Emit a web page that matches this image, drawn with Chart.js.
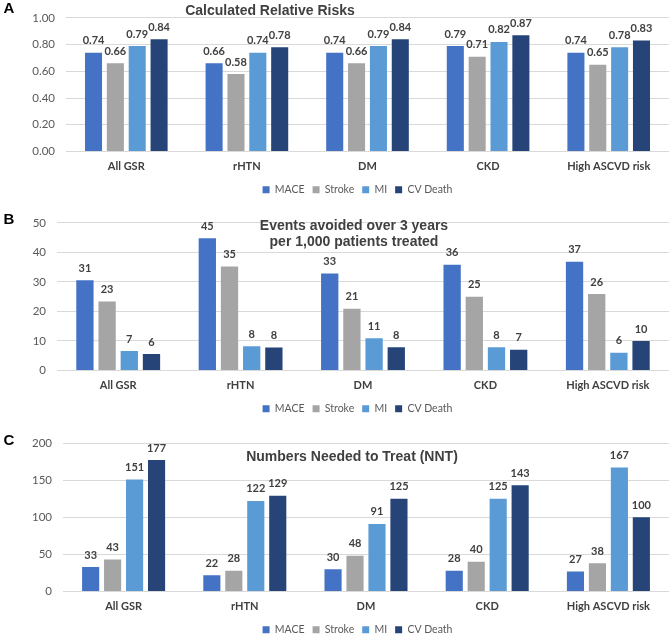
<!DOCTYPE html>
<html>
<head>
<meta charset="utf-8">
<script src="https://cdn.jsdelivr.net/npm/chart.js@4.4.1/dist/chart.umd.min.js"></script>
<style>
  html, body { margin: 0; padding: 0; background: #fff; }
  #wrap { position: relative; width: 669px; height: 636px; overflow: hidden; }
  #wrap canvas { position: absolute; left: 0; }
  .letter, .title { position: absolute; transform: translate(-50%, -50%); white-space: nowrap; }
  .letter { font: bold 15px "Liberation Sans", Arial, sans-serif; color: #000; }
  .title { font: bold 14px "Liberation Sans", Arial, sans-serif; color: #404040; text-align: center; line-height: 16px; }
</style>
</head>
<body>
<div id="wrap">
  <canvas id="chartA" width="669" height="205" style="top:0"></canvas>
  <canvas id="chartB" width="669" height="219" style="top:205px"></canvas>
  <canvas id="chartC" width="669" height="221" style="top:424px"></canvas>

  <div class="letter" style="left:9px;top:7px">A</div>
  <div class="letter" style="left:9px;top:218px">B</div>
  <div class="letter" style="left:9px;top:439px">C</div>

  <div class="title" style="left:270px;top:10px">Calculated Relative Risks</div>
  <div class="title" style="left:354px;top:233px">Events avoided over 3 years<br>per 1,000 patients treated</div>
  <div class="title" style="left:352px;top:456px">Numbers Needed to Treat (NNT)</div>
</div>

<script>
// categories and series
const categories = ["All GSR", "rHTN", "DM", "CKD", "High ASCVD risk"];
const seriesNames = ["MACE", "Stroke", "MI", "CV Death"];
const seriesColors = ["#4472C4", "#A5A5A5", "#5B9BD5", "#264478"];

// A - calculated relative risks
const rrMace    = [0.74, 0.66, 0.74, 0.79, 0.74];
const rrStroke  = [0.66, 0.58, 0.66, 0.71, 0.65];
const rrMi      = [0.79, 0.74, 0.79, 0.82, 0.78];
const rrCvDeath = [0.84, 0.78, 0.84, 0.87, 0.83];
const rrTicks   = [0, 0.2, 0.4, 0.6, 0.8, 1.0];

// B - events avoided over 3 years per 1,000 patients
const evMace    = [30.6, 44.8, 32.9, 35.8, 36.8];
const evStroke  = [23.4, 35.2, 20.9, 25.0, 25.9];
const evMi      = [6.6, 8.2, 10.9, 7.9, 6.0];
const evCvDeath = [5.6, 7.8, 7.9, 7.0, 10.0];
const evTicks   = [0, 10, 20, 30, 40, 50];

// C - numbers needed to treat
const nntMace    = [33, 22, 30, 28, 27];
const nntStroke  = [43, 28, 48, 40, 38];
const nntMi      = [151, 122, 91, 125, 167];
const nntCvDeath = [177, 129, 125, 143, 100];
const nntTicks   = [0, 50, 100, 150, 200];

const FONT = "Lato, 'Noto Sans', sans-serif";

// draws the value above each bar
const barValues = {
    id: "barValues",
    afterDatasetsDraw(chart, args, opts) {
        const ctx = chart.ctx;
        ctx.save();
        ctx.font = "bold 11px " + FONT;
        ctx.fillStyle = "#404040";
        ctx.textAlign = "center";
        ctx.textBaseline = "middle";
        chart.data.datasets.forEach((ds, i) => {
            chart.getDatasetMeta(i).data.forEach((bar, j) => {
                ctx.fillText(opts.format(ds.data[j]), bar.x, bar.y - 12);
            });
        });
        ctx.restore();
    },
};

// the legend sits a little right of the canvas centre in the original
const legendShift = {
    id: "legendShift",
    afterLayout(chart, args, opts) {
        const lg = chart.legend;
        lg.left += opts.dx;
        lg.right += opts.dx;
    },
};

function makeChart(id, series, ticks, cfg) {
    return new Chart(document.getElementById(id), {
        type: "bar",
        data: {
            labels: categories,
            datasets: series.map((values, i) => ({
                label: seriesNames[i],
                data: values,
                backgroundColor: seriesColors[i],
                borderWidth: 0,
                categoryPercentage: 0.725,
                barPercentage: 0.78,
            })),
        },
        options: {
            responsive: false,
            animation: false,
            layout: { padding: { left: 0, top: cfg.top, right: 0, bottom: 0 } },
            scales: {
                x: {
                    grid: { display: false, drawTicks: false },
                    border: { display: false },
                    ticks: { color: "#404040", font: { family: FONT, size: 11, weight: "bold" }, padding: 8, maxRotation: 0 },
                    afterFit: (scale) => { scale.height = 25; },
                },
                y: {
                    min: ticks[0],
                    max: ticks[ticks.length - 1],
                    grid: { color: "#d9d9d9", drawTicks: false },
                    border: { display: false },
                    ticks: { color: "#595959", font: { family: FONT, size: 11.5 }, padding: 11, callback: cfg.tick },
                    afterBuildTicks: (scale) => { scale.ticks = ticks.map((v) => ({ value: v })); },
                    afterFit: (scale) => { scale.width = cfg.left; },
                },
            },
            plugins: {
                legend: {
                    position: "bottom",
                    labels: { boxWidth: 7, boxHeight: 7, padding: 8, color: "#595959", font: { family: FONT, size: 10.5 } },
                },
                legendShift: { dx: 23 },
                tooltip: { enabled: false },
                barValues: { format: cfg.format },
            },
        },
        plugins: [barValues, legendShift],
    });
}

makeChart("chartA", [rrMace, rrStroke, rrMi, rrCvDeath], rrTicks, {
    top: 8, left: 66,
    tick: (v) => Number(v).toFixed(2),
    format: (v) => v.toFixed(2),
});
makeChart("chartB", [evMace, evStroke, evMi, evCvDeath], evTicks, {
    top: 17, left: 57,
    tick: (v) => v,
    format: (v) => Math.round(v),
});
makeChart("chartC", [nntMace, nntStroke, nntMi, nntCvDeath], nntTicks, {
    top: 19, left: 63,
    tick: (v) => v,
    format: (v) => v,
});
</script>
</body>
</html>
